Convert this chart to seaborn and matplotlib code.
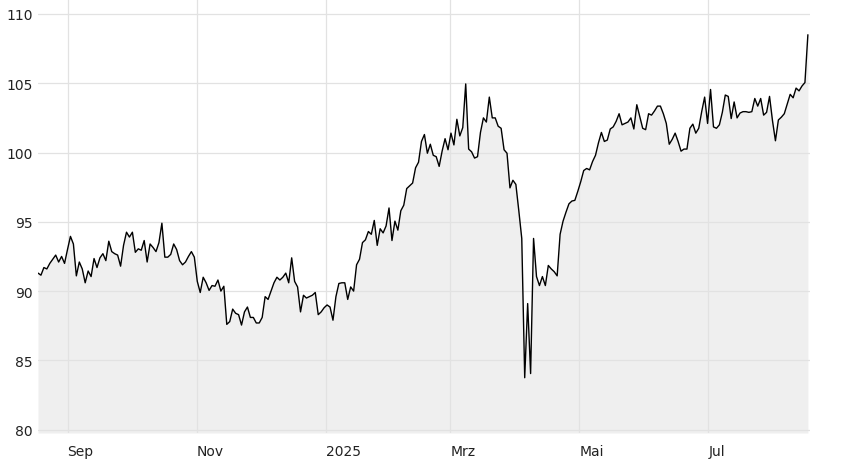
# %% Kursverlauf Aug 2024 - Aug 2025, Linie mit grauer Flaeche
import pandas as pd
import matplotlib
matplotlib.use('Agg')
import matplotlib.pyplot as plt
import seaborn as sns

# %%
# Schlusskurse, ein Wert pro Handelstag
kurs = [
    # Aug - Okt 2024
    91.3, 91.15, 91.7, 91.6, 92.0, 92.3, 92.6, 92.1, 92.5, 92.0,
    93.0, 93.95, 93.4, 91.1, 92.1, 91.6, 90.6, 91.45, 91.05, 92.35,
    91.7, 92.4, 92.7, 92.2, 93.6, 92.85, 92.7, 92.6, 91.8, 93.3,
    94.25, 93.9, 94.25, 92.8, 93.05, 92.95, 93.65, 92.1, 93.4, 93.15,
    92.85, 93.5, 94.9, 92.45, 92.45, 92.65, 93.4, 93.0, 92.2, 91.9,
    92.1, 92.5, 92.85, 92.45, 90.7, 89.9, 91.0, 90.6, 90.05, 90.4,
    90.35, 90.8, 90.0, 90.35,
    # Nov - Dez 2024
    87.6, 87.8, 88.7, 88.4, 88.3, 87.55, 88.5, 88.85, 88.1, 88.1,
    87.7, 87.7, 88.1, 89.6, 89.4, 90.0, 90.6, 91.0, 90.8, 91.0,
    91.3, 90.6, 92.4, 90.7, 90.3, 88.5,
    89.7, 89.5, 89.6, 89.7, 89.9, 88.3, 88.5, 88.8, 89.0, 88.85,
    87.9, 89.6, 90.55, 90.6, 90.6, 89.4, 90.3, 90.0, 91.9, 92.3,
    93.5, 93.7, 94.3, 94.1, 95.1,
    # Jan - Feb 2025
    93.3, 94.5, 94.2, 94.7, 96.0, 93.65, 95.05, 94.4, 95.8, 96.2,
    97.4, 97.6, 97.8, 98.9, 99.3, 100.8, 101.3, 99.95, 100.6,
    # Maerz - April 2025
    99.8, 99.7, 99.0, 100.1, 101.0, 100.2, 101.4, 100.55, 102.4, 101.2,
    101.8, 104.95, 100.25, 100.05, 99.6, 99.7, 101.45, 102.5, 102.2, 104.0,
    102.5, 102.5, 101.9, 101.75, 100.2, 99.95, 97.45, 98.0, 97.7, 95.8,
    93.8, 83.75, 89.1, 84.05, 93.8, 91.05, 90.4, 91.05, 90.4, 91.85,
    91.6, 91.4, 91.1, 94.1,
    # Mai - Juni 2025
    95.05, 95.7, 96.3, 96.5, 96.55, 97.2, 97.9, 98.7, 98.85, 98.75,
    99.35, 99.8, 100.7, 101.45, 100.8, 100.9, 101.7, 101.85, 102.25, 102.8,
    102.0, 102.1, 102.2, 102.5, 101.7, 103.45, 102.6, 101.75, 101.65, 102.8,
    102.7, 103.0, 103.35, 103.35, 102.8, 102.1, 100.6, 100.95, 101.4, 100.8,
    100.1, 100.25, 100.25, 101.75,
    # Juli - Aug 2025
    102.05, 101.4, 101.75, 102.95, 104.0, 102.1, 104.55, 101.85, 101.75, 102.0,
    102.9, 104.15, 104.05, 102.45, 103.65, 102.5, 102.85, 102.95, 102.95, 102.9,
    102.95, 103.9, 103.35, 103.9, 102.7, 102.9, 104.05, 102.3, 100.85, 102.35,
    102.55, 102.8, 103.5, 104.2, 103.95, 104.65, 104.45, 104.8, 105.05, 108.5,
]
start_datum = '2024-08-18'
end_datum = '2025-08-17'

tick_datum = ['2024-09-01', '2024-11-01', '2025-01-01', '2025-03-01', '2025-05-01', '2025-07-01']
tick_text = ['Sep', 'Nov', '2025', 'Mrz', 'Mai', 'Jul']
y_ticks = [80, 85, 90, 95, 100, 105, 110]

# %%
df = pd.DataFrame({
    'datum': pd.date_range(start_datum, end_datum, periods=len(kurs)),
    'kurs': kurs,
})

# %%
sns.set_style('white')
plt.rcParams['font.family'] = ['DejaVu Sans']

fig = plt.figure(figsize=(8.48, 4.6), dpi=100)
ax = fig.add_axes([38 / 848, 26 / 460, 772 / 848, 434 / 460])

y_min, y_max = 79.76, 111.08
ax.fill_between(df['datum'], df['kurs'], y_min, color='#efefef', linewidth=0, zorder=1)
sns.lineplot(data=df, x='datum', y='kurs', color='black', linewidth=1.0, ax=ax, zorder=2)

ax.set_ylim(y_min, y_max)
ax.set_xlim(df['datum'].iloc[0], df['datum'].iloc[-1] + pd.Timedelta(days=1))

ax.set_yticks(y_ticks)
ax.set_yticklabels([str(v) for v in y_ticks])
ax.set_xticks(pd.to_datetime(tick_datum))
ax.set_xticklabels(tick_text, ha='left')

ax.set_axisbelow('line')
ax.grid(True, color='#e2e2e2', linewidth=0.9)
ax.tick_params(axis='both', length=0, labelsize=10, colors='#222222')
ax.tick_params(axis='x', pad=8)
ax.tick_params(axis='y', pad=4)
ax.set_xlabel('')
ax.set_ylabel('')
sns.despine(ax=ax, left=True, bottom=True)

fig.savefig('out.png', dpi=100)
